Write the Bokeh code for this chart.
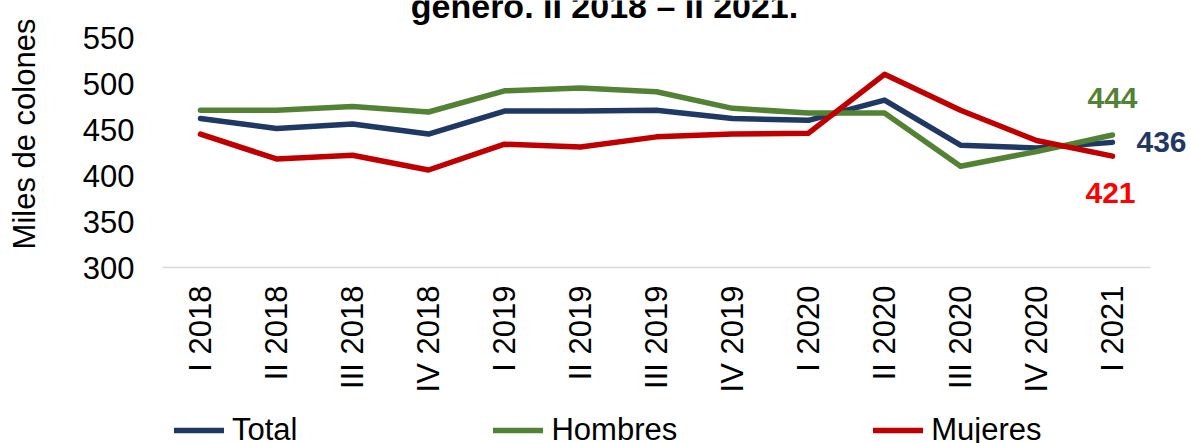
import math
from bokeh.plotting import figure
from bokeh.layouts import column
from bokeh.models import FixedTicker, Label, Legend, LegendItem, Range1d
from bokeh.embed import file_html
from bokeh.resources import INLINE

categories = ["I 2018", "II 2018", "III 2018", "IV 2018",
              "I 2019", "II 2019", "III 2019", "IV 2019",
              "I 2020", "II 2020", "III 2020", "IV 2020", "I 2021"]
total = [462, 451, 456, 445, 470, 470, 471, 462, 460, 482, 433, 430, 436]
hombres = [471, 471, 475, 469, 492, 495, 491, 473, 468, 468, 410, 426, 444]
mujeres = [445, 418, 422, 406, 434, 431, 442, 445, 446, 510, 471, 438, 421]
y_ticks = [300, 350, 400, 450, 500, 550]
series_names = ["Total", "Hombres", "Mujeres"]

title_text = "género. II 2018 – II 2021."
y_label = "Miles de colones"

FONT = "Liberation Sans"
C_TOTAL = "#1F3864"
C_HOM = "#548235"
C_MUJ = "#C00000"
C_MUJ_LABEL = "#FF0000"

W = 1191
H_MAIN, H_LEG = 400, 43
FRAME_L, FRAME_B = 162, 267       # frame left / bottom in pixels
PLOT_R = 1150                     # right end of the category area
Y_TOP_PX = 37                     # pixel row of the top tick (550)
TITLE_BASE_PX = 5                 # title anchor row (top part cut as in the source)
n = len(categories)
xs = list(range(n))
ymin, ymax = y_ticks[0], y_ticks[-1]
upp = (ymax - ymin) / (FRAME_B - Y_TOP_PX)    # data units per pixel (y)
cpp = n / (PLOT_R - FRAME_L)                  # category units per pixel (x)

p = figure(x_range=Range1d(-0.5, n - 0.5 + (W - PLOT_R) * cpp),
           y_range=Range1d(ymin, ymin + FRAME_B * upp),
           width=W, height=H_MAIN, output_backend="svg", toolbar_location=None,
           min_border_left=FRAME_L, min_border_right=0,
           min_border_top=0, min_border_bottom=H_MAIN - FRAME_B)
p.title.visible = False
p.outline_line_color = None
p.xgrid.grid_line_color = None
p.ygrid.grid_line_color = None

colors = [C_TOTAL, C_HOM, C_MUJ]
series = [total, hombres, mujeres]
for vals, col in zip(series, colors):
    p.line(xs, vals, line_color=col, line_width=5.5, line_join="round", line_cap="round")

# y axis
p.yaxis.ticker = FixedTicker(ticks=y_ticks)
p.yaxis.axis_line_color = None
p.yaxis.major_tick_line_color = None
p.yaxis.minor_tick_line_color = None
p.yaxis.major_label_standoff = 22
p.yaxis.major_label_text_font = FONT
p.yaxis.major_label_text_font_size = "31px"
p.yaxis.major_label_text_color = "black"
p.yaxis.axis_label = y_label
p.yaxis.axis_label_text_font = FONT
p.yaxis.axis_label_text_font_size = "31px"
p.yaxis.axis_label_text_font_style = "normal"
p.yaxis.axis_label_text_color = "black"
p.yaxis.axis_label_standoff = 38

# x axis
p.xaxis.ticker = FixedTicker(ticks=xs)
p.xaxis.major_label_overrides = {i: c for i, c in zip(xs, categories)}
p.xaxis.bounds = (-0.5, n - 0.5)
p.xaxis.axis_line_color = "#D9D9D9"
p.xaxis.axis_line_width = 1.5
p.xaxis.major_tick_line_color = None
p.xaxis.minor_tick_line_color = None
p.xaxis.major_label_orientation = math.pi / 2
p.xaxis.major_label_standoff = 12
p.xaxis.major_label_text_font = FONT
p.xaxis.major_label_text_font_size = "31px"
p.xaxis.major_label_text_color = "black"

# chart title (top part cut as in the source)
p.add_layout(Label(x=(604 - FRAME_L) * cpp - 0.5, y=ymin + (FRAME_B - TITLE_BASE_PX) * upp,
                   text=title_text, text_font=FONT, text_font_size="34px", text_font_style="bold",
                   text_align="center", text_baseline="alphabetic", text_color="black"))

# end labels
for vals, col, dx, dy in [(hombres, C_HOM, 0, 37), (total, C_TOTAL, 49, 0), (mujeres, C_MUJ_LABEL, -2, -37)]:
    p.add_layout(Label(x=xs[-1] + dx * cpp, y=vals[-1] + dy * upp, text=str(vals[-1]),
                       text_font=FONT, text_font_size="30px", text_font_style="bold",
                       text_align="center", text_baseline="middle", text_color=col))

# legend strip below the chart (its frame is aligned with the chart frame)
lg = figure(x_range=Range1d(0, 1), y_range=Range1d(0, 1), width=W, height=H_LEG,
            output_backend="svg", toolbar_location=None, x_axis_type=None, y_axis_type=None,
            min_border_left=0, min_border_right=0, min_border_top=0, min_border_bottom=0)
lg.title.visible = False
lg.outline_line_color = None
lg.xgrid.grid_line_color = None
lg.ygrid.grid_line_color = None
items = []
for name, vals, col in zip(series_names, series, colors):
    # drawn outside the strip's view, used only as legend glyphs
    r = lg.line(xs, vals, line_color=col, line_width=5.5, line_cap="round")
    items.append(LegendItem(label=name, renderers=[r]))
legend = Legend(items=items, location=(12, -5), orientation="horizontal", spacing=196,
                glyph_width=50, glyph_height=24, label_height=24, label_standoff=8,
                label_text_font=FONT, label_text_font_size="31px", label_text_color="black",
                padding=0, margin=0, border_line_color=None, background_fill_alpha=0)
lg.add_layout(legend)

open("out.html", "w").write(file_html(column(p, lg, spacing=0), INLINE))
